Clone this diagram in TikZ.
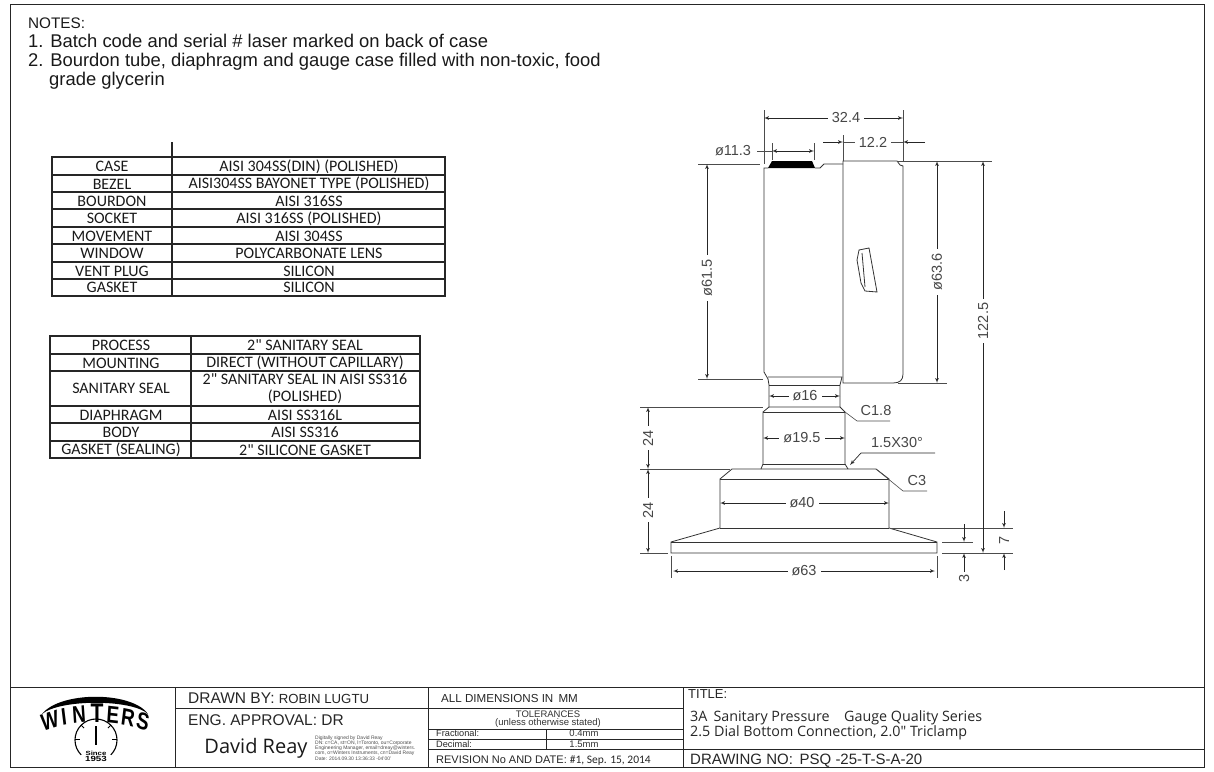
\documentclass[tikz,border=0pt]{standalone}
\usepackage{fontspec}
\setmainfont{Liberation Sans}
\newfontfamily\tablefont{Carlito}
\newfontfamily\signfont{Open Sans}
\usetikzlibrary{shapes,arrows}
\definecolor{dimgrey}{RGB}{70,70,70}
\tikzstyle{frameline} = [draw, line width=0.9pt, color=black!85]
\tikzstyle{gridline} = [draw, line width=1.1pt, color=black!85]
\tikzstyle{partline} = [draw, line width=0.8pt, color=black!80]
\tikzstyle{dimline} = [draw, line width=0.7pt, color=black!85, latex'-latex']
\tikzstyle{dimend} = [draw, line width=0.7pt, color=black!85, -latex']
\tikzstyle{extline} = [draw, line width=0.6pt, color=black!70]
\tikzstyle{dimtext} = [fill=white, inner xsep=4pt, inner ysep=1pt, text=dimgrey, font=\fontsize{14.5}{15}\selectfont]
\tikzstyle{notetext} = [anchor=base west, inner sep=0pt, font=\fontsize{18.4}{19}\selectfont, text=black!90]
\tikzstyle{cell} = [inner sep=0pt, font=\tablefont\fontsize{16}{17.3}\selectfont, text=black!90, align=center]
\tikzstyle{boxtext} = [anchor=base west, inner sep=0pt, text=black!85, font=\fontsize{15.5}{15.5}\selectfont]
\tikzstyle{boxsmall} = [inner sep=0pt, text=black!80, font=\fontsize{9.5}{8.2}\selectfont, align=center]
\tikzstyle{logoletter} = [inner sep=0pt, xscale=0.78, font=\bfseries\fontsize{24}{24}\selectfont]

\begin{document}
\begin{tikzpicture}[x=1pt, y=-1pt, >=latex']
    \useasboundingbox (0,0) rectangle (1214,771);
    % sheet
    \draw[frameline] (10,4) rectangle (1204,767);
    \draw[frameline] (10,687) -- (1204,687);
    \draw[frameline] (175,687) -- (175,767);
    \draw[frameline] (175,708) -- (428,708);
    \draw[frameline] (428,687) -- (428,767);
    \draw[frameline] (683,687) -- (683,767);
    \draw[frameline] (428,708) -- (683,708);
    \draw[frameline] (428,729) -- (683,729);
    \draw[frameline] (428,739) -- (683,739);
    \draw[frameline] (428,749) -- (1204,749);
    \draw[frameline] (546,729) -- (546,749);

    % notes
    \node[notetext, font=\fontsize{15.3}{17}\selectfont] (notes) at (28,28) {NOTES:};
    \node[notetext] (noteone) at (28,47) {1. Batch code and serial \# laser marked on back of case};
    \node[notetext] (notetwo) at (28,66) {2. Bourdon tube, diaphragm and gauge case filled with non-toxic, food};
    \node[notetext] (notethree) at (49,85) {grade glycerin};

    % material table
    \draw[gridline] (52,157) rectangle (445,296);
    \draw[gridline] (172,142) -- (172,296);
    \draw[gridline] (52,175) -- (445,175);
    \draw[gridline] (52,192) -- (445,192);
    \draw[gridline] (52,209) -- (445,209);
    \draw[gridline] (52,227) -- (445,227);
    \draw[gridline] (52,244) -- (445,244);
    \draw[gridline] (52,262) -- (445,262);
    \draw[gridline] (52,279) -- (445,279);
    \node[cell] (case) at (112,166.5) {CASE};
    \node[cell] (bezel) at (112,184) {BEZEL};
    \node[cell] (bourdon) at (112,201) {BOURDON};
    \node[cell] (socket) at (112,218.5) {SOCKET};
    \node[cell] (movement) at (112,236) {MOVEMENT};
    \node[cell] (window) at (112,253.5) {WINDOW};
    \node[cell] (vent) at (112,271) {VENT PLUG};
    \node[cell] (gasket) at (112,287.5) {GASKET};
    \node[cell] (casev) at (309,166.5) {AISI 304SS(DIN) (POLISHED)};
    \node[cell] (bezelv) at (309,184) {AISI304SS BAYONET TYPE (POLISHED)};
    \node[cell] (bourdonv) at (309,201) {AISI 316SS};
    \node[cell] (socketv) at (309,218.5) {AISI 316SS (POLISHED)};
    \node[cell] (movementv) at (309,236) {AISI 304SS};
    \node[cell] (windowv) at (309,253.5) {POLYCARBONATE LENS};
    \node[cell] (ventv) at (309,271) {SILICON};
    \node[cell] (gasketv) at (309,287.5) {SILICON};

    % process table
    \draw[gridline] (50,336) rectangle (420,458);
    \draw[gridline] (191,336) -- (191,458);
    \draw[gridline] (50,354) -- (420,354);
    \draw[gridline] (50,371) -- (420,371);
    \draw[gridline] (50,406) -- (420,406);
    \draw[gridline] (50,423) -- (420,423);
    \draw[gridline] (50,441) -- (420,441);
    \node[cell] (process) at (121,345.5) {PROCESS};
    \node[cell] (mounting) at (121,363) {MOUNTING};
    \node[cell] (sanitary) at (121,388.5) {SANITARY SEAL};
    \node[cell] (diaphragm) at (121,415) {DIAPHRAGM};
    \node[cell] (body) at (121,432.5) {BODY};
    \node[cell] (sealing) at (121,450) {GASKET (SEALING)};
    \node[cell] (processv) at (305,345.5) {2" SANITARY SEAL};
    \node[cell] (mountingv) at (305,363) {DIRECT (WITHOUT CAPILLARY)};
    \node[cell] (sanitaryv) at (305,389) {2" SANITARY SEAL IN AISI SS316\\(POLISHED)};
    \node[cell] (diaphragmv) at (305,415) {AISI SS316L};
    \node[cell] (bodyv) at (305,432.5) {AISI SS316};
    \node[cell] (sealingv) at (305,450) {2" SILICONE GASKET};

    % gauge outline
    \draw[partline] (768,379) -- (764,372) -- (764,168) -- (768,168);
    \fill (768,168) -- (772,161) -- (812,161) -- (815,168) -- cycle;
    \draw[partline] (815,168) -- (820,168) -- (824,164) -- (843,164);
    \draw[partline] (843,383) -- (843,161) -- (897,161) -- (900,165) -- (903,166) -- (903,374)
        .. controls (903,380) and (900,383) .. (893,383) -- cycle;
    \draw[partline] (859,250) -- (869,248) -- (877,292) -- (865,291) -- (861,283) -- (857,260) -- cycle;
    \draw[partline] (862,253) -- (865,287);
    % neck and clamp
    \draw[partline] (768,379) -- (769,385) -- (769,407);
    \draw[partline] (768,377) -- (842,377) -- (840,385) -- (840,407);
    \draw[partline] (769,385) -- (840,385);
    \draw[partline] (769,407) -- (840,407) -- (845,412) -- (845,464) -- (848,469);
    \draw[partline] (769,407) -- (763,412) -- (763,464) -- (761,469);
    \draw[partline] (763,412) -- (845,412);
    \draw[partline] (763,464) -- (845,464);
    \draw[partline] (732,469) -- (876,469) -- (889,479) -- (889,528) -- (937,542) -- (937,553)
        -- (671,553) -- (671,542) -- (720,528) -- (720,479) -- cycle;
    \draw[partline] (720,479) -- (889,479);
    \draw[partline] (720,528) -- (889,528);
    \draw[partline] (671,542) -- (937,542);

    % extension lines
    \draw[extline] (764,110) -- (764,164);
    \draw[extline] (903,110) -- (903,161);
    \draw[extline] (843,135) -- (843,161);
    \draw[extline] (772,143) -- (772,160);
    \draw[extline] (814,143) -- (814,160);
    \draw[extline] (698,164) -- (760,164);
    \draw[extline] (698,379) -- (763,379);
    \draw[extline] (897,161) -- (992,161);
    \draw[extline] (898,383) -- (947,383);
    \draw[extline] (640,407) -- (763,407);
    \draw[extline] (640,469) -- (730,469);
    \draw[extline] (640,553) -- (668,553);
    \draw[extline] (890,528) -- (1013,528);
    \draw[extline] (942,553) -- (1013,553);
    \draw[extline] (942,542) -- (973,542);
    \draw[extline] (671,556) -- (671,578);
    \draw[extline] (937,556) -- (937,578);

    % dimensions
    \draw[dimline] (764,118) -- (903,118);
    \node[dimtext] (widthd) at (846,118) {32.4};
    \draw[dimend] (823,142) -- (843,142);
    \draw[dimend] (925,142) -- (903,142);
    \draw[extline] (843,142) -- (903,142);
    \node[dimtext] (caped) at (873,142) {12.2};
    \draw[extline] (757,151) -- (772,151);
    \draw[dimline] (772,151) -- (814,151);
    \node[dimtext, fill=none] (windowd) at (733,151) {\o11.3};
    \draw[dimline] (707,164) -- (707,379);
    \node[dimtext, rotate=90] (backd) at (707,278) {\o61.5};
    \draw[dimline] (937,161) -- (937,383);
    \node[dimtext, rotate=90] (faced) at (937,272) {\o63.6};
    \draw[dimline] (983,161) -- (983,553);
    \node[dimtext, rotate=90] (heightd) at (983,321) {122.5};
    \draw[dimline] (648,407) -- (648,469);
    \node[dimtext, rotate=90] (upperd) at (648,438) {24};
    \draw[dimline] (648,469) -- (648,553);
    \node[dimtext, rotate=90] (lowerd) at (648,510) {24};
    \draw[dimline] (769,396) -- (840,396);
    \node[dimtext] (neckd) at (805,396) {\o16};
    \draw[dimline] (763,438) -- (845,438);
    \node[dimtext] (clampd) at (802,438) {\o19.5};
    \draw[dimline] (720,503) -- (889,503);
    \node[dimtext] (ferrule) at (802,503) {\o40};
    \draw[dimline] (673,571) -- (935,571);
    \node[dimtext] (flanged) at (804,571) {\o63};
    \draw[dimend] (1004,511) -- (1004,528);
    \draw[dimend] (1004,570) -- (1004,553);
    \node[dimtext, rotate=90] (edged) at (1004,540) {7};
    \draw[dimend] (964,524) -- (964,542);
    \draw[dimend] (964,572) -- (964,553);
    \node[dimtext, rotate=90, fill=none] (thind) at (964,578) {3};

    % leaders
    \draw[extline] (845,412) -- (857,421) -- (890,421);
    \node[dimtext, fill=none] (cone) at (876,411) {C1.8};
    \draw[dimend] (935,453) -- (861,453) -- (850,465);
    \node[dimtext, fill=none] (slope) at (897,443) {1.5X30\textdegree};
    \draw[extline] (876,469) -- (903,491) -- (927,491);
    \node[dimtext, fill=none] (cthree) at (917,481) {C3};

    % logo
    \fill (42,714) .. controls (60,691) and (132,691) .. (148,714) .. controls (132,699) and (60,699) .. cycle;
    \node[logoletter, rotate=14] (logow) at (50,721) {W};
    \node[logoletter, rotate=9] (logoi) at (64,717) {I};
    \node[logoletter, rotate=5] (logon) at (79,715) {N};
    \node[logoletter, font=\bfseries\fontsize{27}{27}\selectfont] (logot) at (97,713) {T};
    \node[logoletter, rotate=-5] (logoe) at (113,715) {E};
    \node[logoletter, rotate=-9] (logor) at (128,718) {R};
    \node[logoletter, rotate=-14] (logos) at (143,721) {S};
    \draw[line width=1.1pt] (81.15,754.85) arc (135:405:21);
    \draw[line width=2.4pt] (96,726) -- (96,745);
    \draw[line width=1pt] (75,739) -- (80,739);
    \draw[line width=1pt] (112,739) -- (117,739);
    \draw[line width=1pt] (81,725) -- (84,728);
    \draw[line width=1pt] (111,725) -- (108,728);
    \node[inner sep=0pt, xscale=1.3, font=\bfseries\fontsize{6}{6}\selectfont] (since) at (96,753) {Since};
    \node[inner sep=0pt, xscale=1.3, font=\bfseries\fontsize{7.5}{7.5}\selectfont] (year) at (96,758.5) {1953};

    % title block
    \node[boxtext] (drawn) at (188,703) {DRAWN BY: {\fontsize{13.2}{13.2}\selectfont ROBIN LUGTU}};
    \node[boxtext] (eng) at (188,725) {ENG. APPROVAL: DR};
    \node[inner sep=0pt, font=\signfont\fontsize{20}{20}\selectfont, text=black!90] (signature) at (256,748) {David Reay};
    \node[inner sep=0pt, font=\fontsize{5}{5.2}\selectfont, align=left, text=black!70, anchor=west] (signnote) at (315,748) {Digitally signed by David Reay\\DN: c=CA, st=ON, l=Toronto, ou=Corporate\\Engineering Manager, email=dreay@winters.\\com, o=Winters Instruments, cn=David Reay\\Date: 2014.09.30 13:36:33 -04'00'};
    \node[boxtext, font=\fontsize{11.6}{11.6}\selectfont] (alldims) at (441,702) {ALL DIMENSIONS IN\, MM};
    \node[boxsmall] (tolerances) at (548,719) {TOLERANCES\\(unless otherwise stated)};
    \node[boxtext, font=\fontsize{9.2}{9.2}\selectfont] (frac) at (436,736) {Fractional:};
    \node[boxtext, font=\fontsize{9.2}{9.2}\selectfont] (deci) at (436,747) {Decimal:};
    \node[boxsmall] (fracv) at (584,733.5) {0.4mm};
    \node[boxsmall] (deciv) at (584,744.5) {1.5mm};
    \node[boxtext, font=\fontsize{11}{11}\selectfont] (revision) at (436,763) {REVISION No AND DATE: {\tablefont\fontsize{11.5}{11.5}\selectfont \#1, Sep. 15, 2014}};
    \node[boxtext, font=\fontsize{13}{13}\selectfont] (title) at (688,698) {TITLE:};
    \node[boxtext, font=\signfont\fontsize{14.3}{14.3}\selectfont] (titleone) at (690,721) {3A\, Sanitary Pressure\,\, \, Gauge Quality Series};
    \node[boxtext, font=\signfont\fontsize{14.3}{14.3}\selectfont] (titletwo) at (690,736) {2.5 Dial Bottom Connection, 2.0" Triclamp};
    \node[boxtext, font=\fontsize{15}{15}\selectfont] (drawing) at (690,764) {DRAWING NO:\, PSQ -25-T-S-A-20};
  \end{tikzpicture}
\end{document}
